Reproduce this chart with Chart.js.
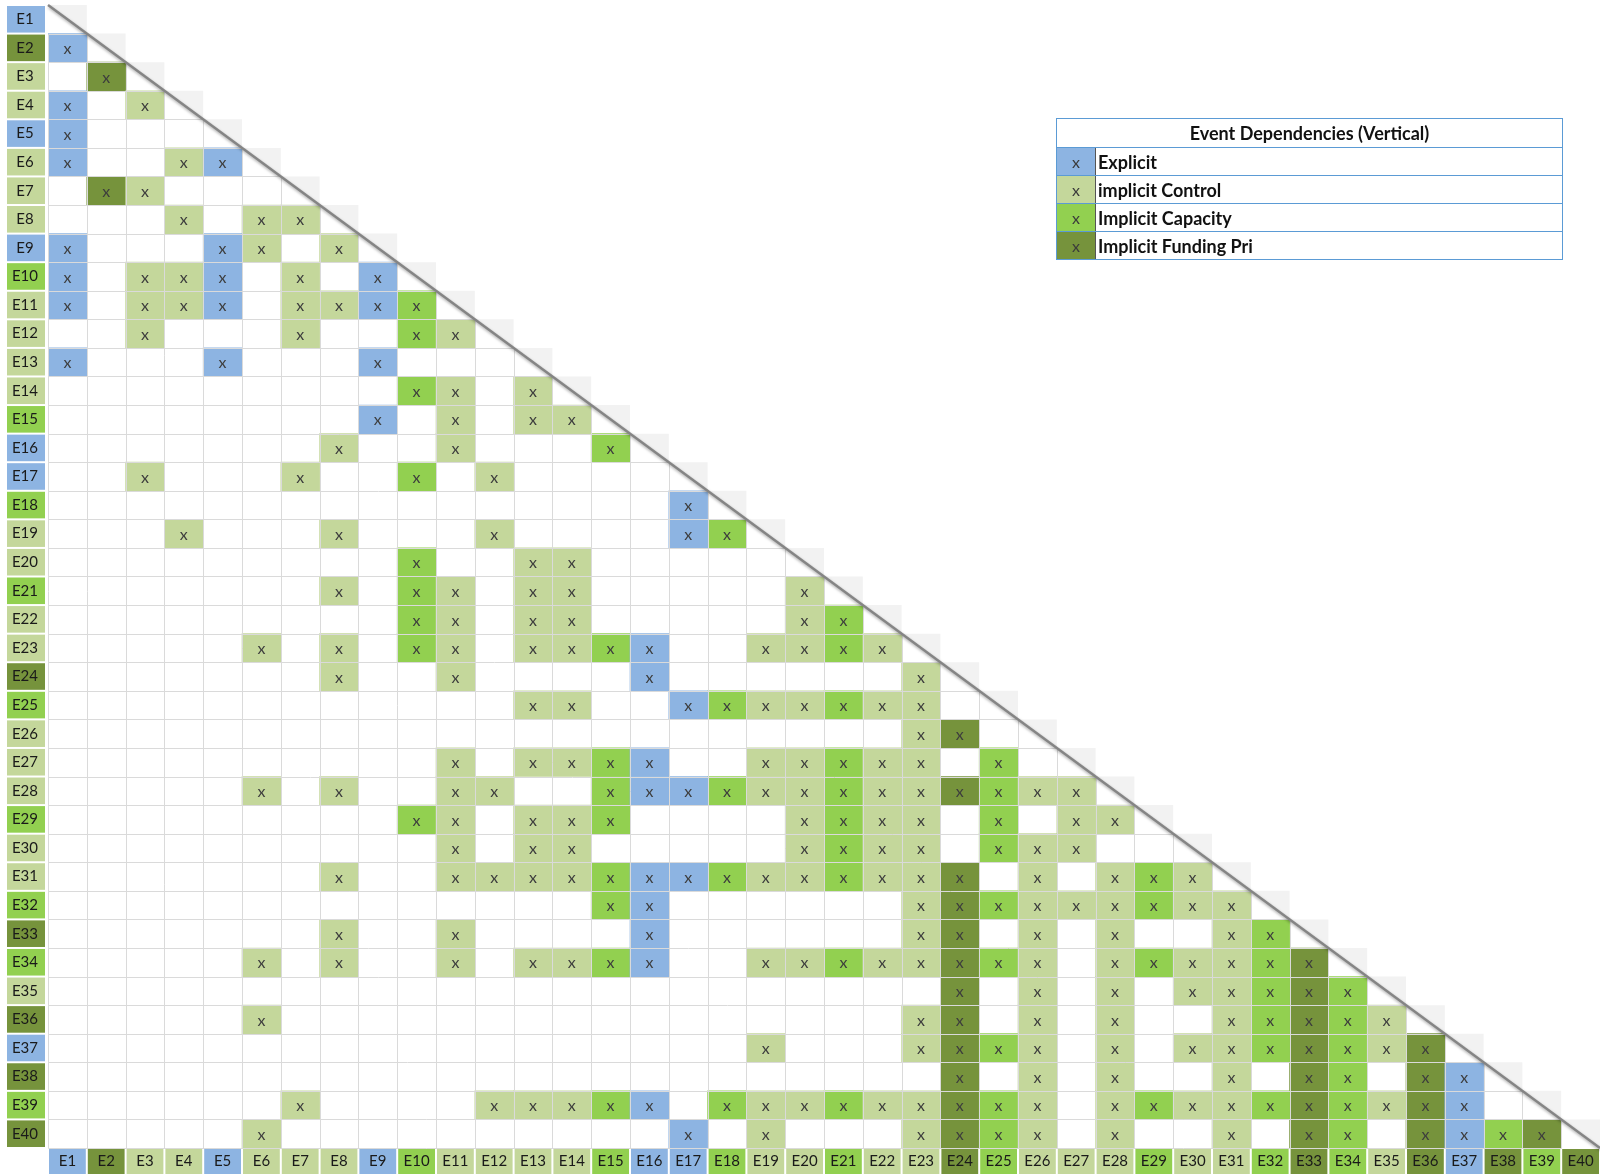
<!DOCTYPE html>
<html>
<head>
<meta charset="utf-8">
<script src="https://cdn.jsdelivr.net/npm/chart.js@4.4.1/dist/chart.umd.min.js"></script>
<style>
  html, body { margin: 0; padding: 0; background: #fff; }
  #wrap { position: relative; width: 1600px; height: 1174px; }
  #legend { position: absolute; left: 1056px; top: 118px; width: 507px; border-collapse: collapse;
            font-family: Lato, sans-serif; font-weight: bold; font-size: 18px; color: #111; }
  #legend th, #legend td { border: 1px solid #5b9bd5; padding: 0 2px; height: 27px; }
  #legend th { text-align: center; height: 28px; }
  #legend td.sw { width: 34px; text-align: center; font-weight: normal; font-size: 16px; color: #3b3b3b;
                  border-right: 1px solid #555; }
</style>
</head>
<body>
<div id="wrap">
  <canvas id="matrix" width="1600" height="1174"></canvas>
  <table id="legend"></table>
</div>
<script>
// events (rows top->bottom, columns left->right)
const events = ['E1','E2','E3','E4','E5','E6','E7','E8','E9','E10',
  'E11','E12','E13','E14','E15','E16','E17','E18','E19','E20',
  'E21','E22','E23','E24','E25','E26','E27','E28','E29','E30',
  'E31','E32','E33','E34','E35','E36','E37','E38','E39','E40'];

// type of each event (colours of the label boxes)
const eventType = ('bdllblllbg' + 'llllgbbgll' + 'glldglllgl' + 'lgdgldbdgd').split('');

// dependency types
const typeKeys = ['b', 'l', 'g', 'd'];
const typeNames = ['Explicit', 'implicit Control', 'Implicit Capacity', 'Implicit Funding Pri'];
const typeColors = ['#8db4e2', '#c4d79b', '#92d050', '#76933c'];

// marked cells per row: column number + type letter
const deps = [
  '',
  '1b',
  '2d',
  '1b 3l',
  '1b',
  '1b 4l 5b',
  '2d 3l',
  '4l 6l 7l',
  '1b 5b 6l 8l',
  '1b 3l 4l 5b 7l 9b',
  '1b 3l 4l 5b 7l 8l 9b 10g',
  '3l 7l 10g 11l',
  '1b 5b 9b',
  '10g 11l 13l',
  '9b 11l 13l 14l',
  '8l 11l 15g',
  '3l 7l 10g 12l',
  '17b',
  '4l 8l 12l 17b 18g',
  '10g 13l 14l',
  '8l 10g 11l 13l 14l 20l',
  '10g 11l 13l 14l 20l 21g',
  '6l 8l 10g 11l 13l 14l 15g 16b 19l 20l 21g 22l',
  '8l 11l 16b 23l',
  '13l 14l 17b 18g 19l 20l 21g 22l 23l',
  '23l 24d',
  '11l 13l 14l 15g 16b 19l 20l 21g 22l 23l 25g',
  '6l 8l 11l 12l 15g 16b 17b 18g 19l 20l 21g 22l 23l 24d 25g 26l 27l',
  '10g 11l 13l 14l 15g 20l 21g 22l 23l 25g 27l 28l',
  '11l 13l 14l 20l 21g 22l 23l 25g 26l 27l',
  '8l 11l 12l 13l 14l 15g 16b 17b 18g 19l 20l 21g 22l 23l 24d 26l 28l 29g 30l',
  '15g 16b 23l 24d 25g 26l 27l 28l 29g 30l 31l',
  '8l 11l 16b 23l 24d 26l 28l 31l 32g',
  '6l 8l 11l 13l 14l 15g 16b 19l 20l 21g 22l 23l 24d 25g 26l 28l 29g 30l 31l 32g 33d',
  '24d 26l 28l 30l 31l 32g 33d 34g',
  '6l 23l 24d 26l 28l 31l 32g 33d 34g 35l',
  '19l 23l 24d 25g 26l 28l 30l 31l 32g 33d 34g 35l 36d',
  '24d 26l 28l 31l 33d 34g 36d 37b',
  '7l 12l 13l 14l 15g 16b 18g 19l 20l 21g 22l 23l 24d 25g 26l 28l 29g 30l 31l 32g 33d 34g 35l 36d 37b',
  '6l 17b 19l 23l 24d 25g 26l 28l 31l 33d 34g 36d 37b 38g 39d'
];

const labelFont = { family: 'Lato', size: 15 };

// one floating bar per marked cell, one dataset per type
const datasets = typeKeys.map((k, t) => ({
  label: typeNames[t],
  data: [],
  backgroundColor: typeColors[t],
  borderWidth: 0,
  grouped: false,
  barPercentage: 1,
  categoryPercentage: 1
}));
deps.forEach((row, i) => {
  row.split(' ').filter(s => s).forEach(tok => {
    const col = parseInt(tok, 10);
    const t = typeKeys.indexOf(tok.slice(-1));
    datasets[t].data.push({ y: events[i], x: [col - 0.5, col + 0.5] });
  });
});

const matrixDecor = {
  id: 'matrixDecor',
  beforeDraw(chart) {
    const { ctx, scales: { x, y } } = chart;
    const band = y.getPixelForValue(1) - y.getPixelForValue(0);
    ctx.save();
    events.forEach((name, i) => {
      ctx.fillStyle = typeColors[typeKeys.indexOf(eventType[i])];
      const yc = y.getPixelForValue(i);
      ctx.fillRect(y.left, yc - band / 2 + 1, y.right - y.left - 3, band - 2);
      const x0 = x.getPixelForValue(i + 0.5), x1 = x.getPixelForValue(i + 1.5);
      ctx.fillRect(x0 + 1, x.top + 1, x1 - x0 - 2, x.bottom - x.top - 1);
    });
    ctx.restore();
  },
  afterDatasetsDraw(chart) {
    const { ctx, scales: { x, y } } = chart;
    const n = events.length;
    const band = y.getPixelForValue(1) - y.getPixelForValue(0);
    // cell edges, rounded once so shared edges coincide
    const colEdge = [], rowEdge = [];
    for (let k = 0; k <= n; k++) {
      colEdge.push(Math.round(x.getPixelForValue(k + 0.5)) + 0.5);
      rowEdge.push(Math.round(y.getPixelForValue(k) - band / 2) + 0.5);
    }
    ctx.save();

    // grid of the lower triangle
    ctx.strokeStyle = '#dadada';
    ctx.lineWidth = 1;
    ctx.beginPath();
    for (let k = 1; k <= n; k++) {
      ctx.moveTo(colEdge[0], rowEdge[k]);
      ctx.lineTo(colEdge[Math.min(k, n - 1)], rowEdge[k]);
    }
    for (let j = 0; j < n; j++) {
      ctx.moveTo(colEdge[j], rowEdge[Math.max(j, 1)]);
      ctx.lineTo(colEdge[j], rowEdge[n]);
    }
    ctx.stroke();

    // x marks
    ctx.fillStyle = '#3d3d3d';
    ctx.font = '16px Lato';
    ctx.textAlign = 'center';
    ctx.textBaseline = 'middle';
    chart.getSortedVisibleDatasetMetas().forEach(meta => {
      meta.data.forEach(bar => {
        ctx.fillText('x', (bar.x + bar.base) / 2, bar.y + 1);
      });
    });

    // grey half cells along the diagonal
    ctx.fillStyle = '#f2f2f2';
    events.forEach((name, i) => {
      const x0 = x.getPixelForValue(i + 0.5), x1 = x.getPixelForValue(i + 1.5);
      const yc = y.getPixelForValue(i);
      ctx.beginPath();
      ctx.moveTo(x0, yc - band / 2);
      ctx.lineTo(x1, yc - band / 2);
      ctx.lineTo(x1, yc + band / 2);
      ctx.closePath();
      ctx.fill();
    });

    // diagonal line
    ctx.strokeStyle = '#858585';
    ctx.lineWidth = 2.5;
    ctx.shadowColor = 'rgba(0,0,0,0.35)';
    ctx.shadowBlur = 3;
    ctx.shadowOffsetX = 1;
    ctx.shadowOffsetY = 2;
    ctx.beginPath();
    ctx.moveTo(x.getPixelForValue(0.5), y.getPixelForValue(0) - band / 2);
    ctx.lineTo(x.getPixelForValue(n + 0.5), y.getPixelForValue(n - 1) + band / 2);
    ctx.stroke();
    ctx.restore();
  }
};

const chart = new Chart(document.getElementById('matrix'), {
  type: 'bar',
  data: { labels: events, datasets },
  options: {
    indexAxis: 'y',
    responsive: false,
    animation: false,
    layout: { padding: { left: 7, top: 5, right: 0, bottom: 0 } },
    plugins: { legend: { display: false }, tooltip: { enabled: false } },
    scales: {
      x: {
        type: 'linear',
        position: 'bottom',
        min: 0.5,
        max: events.length + 0.5,
        afterBuildTicks: s => { s.ticks = events.map((_, i) => ({ value: i + 1 })); },
        afterFit: s => { s.height = 26; s.paddingLeft = 0; s.paddingRight = 0; },
        grid: { display: false, drawTicks: false },
        border: { display: false },
        ticks: { autoSkip: false, maxRotation: 0, padding: 4, color: '#1a1a1a', font: labelFont,
                 callback: v => events[v - 1] }
      },
      y: {
        type: 'category',
        offset: true,
        afterFit: s => { s.width = 41; s.paddingTop = 0; s.paddingBottom = 0; },
        grid: { display: false, drawTicks: false },
        border: { display: false },
        ticks: { crossAlign: 'center', padding: 10, color: '#1a1a1a', font: labelFont }
      }
    }
  },
  plugins: [matrixDecor]
});

// legend table built from the datasets
let html = '<tr><th colspan="2">Event Dependencies (Vertical)</th></tr>';
chart.data.datasets.forEach(ds => {
  html += '<tr><td class="sw" style="background:' + ds.backgroundColor + '">x</td><td>' + ds.label + '</td></tr>';
});
document.getElementById('legend').innerHTML = html;
</script>
</body>
</html>
